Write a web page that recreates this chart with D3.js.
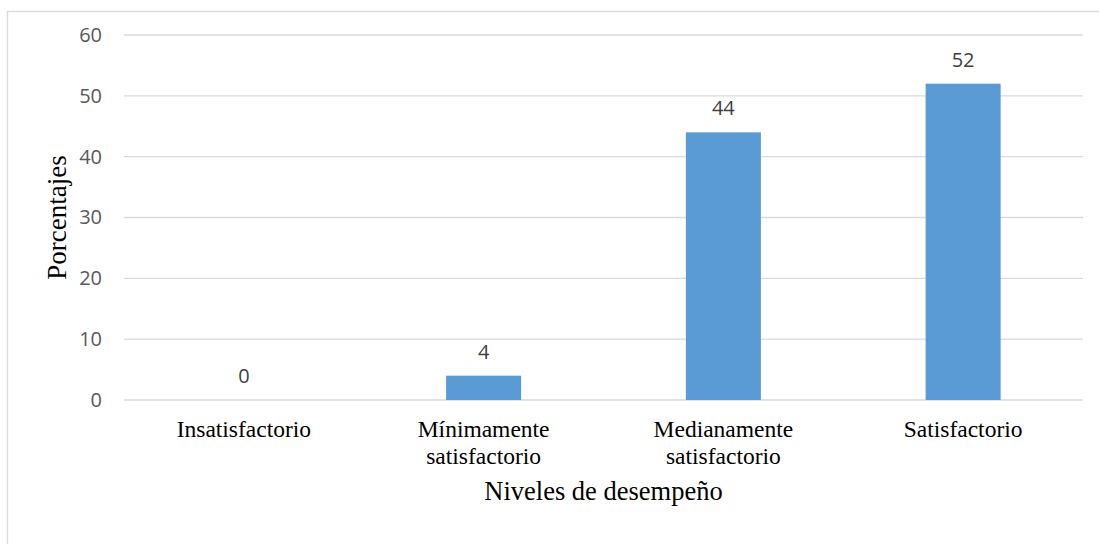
<!DOCTYPE html>
<html>
<head>
<meta charset="utf-8">
<script src="https://cdn.jsdelivr.net/npm/d3@7"></script>
<style>
  body { margin: 0; background: #fff; }
  .tick text { font-family: "Open Sans", sans-serif; }
</style>
</head>
<body>
<div id="chart"></div>
<script>
// data
const categories = ["Insatisfactorio", "Mínimamente satisfactorio", "Medianamente satisfactorio", "Satisfactorio"];
const categoryLines = [["Insatisfactorio"], ["Mínimamente", "satisfactorio"], ["Medianamente", "satisfactorio"], ["Satisfactorio"]];
const values = [0, 4, 44, 52];
const yTicks = [0, 10, 20, 30, 40, 50, 60];

// dimensions and margins
const W = 1099, H = 544;
const margin = { top: 35, right: 16, bottom: 144, left: 124 },
      width = W - margin.left - margin.right,
      height = H - margin.top - margin.bottom;

const svg = d3.select("#chart")
  .append("svg")
  .attr("width", W)
  .attr("height", H);

// outer chart border
svg.append("rect")
  .attr("x", 7.5).attr("y", 11.5)
  .attr("width", W).attr("height", H)
  .attr("fill", "none")
  .attr("stroke", "#d9d9d9")
  .attr("stroke-width", 1.3);

const g = svg.append("g")
  .attr("transform", `translate(${margin.left},${margin.top})`);

// scales
const x = d3.scaleBand()
  .domain(categories)
  .range([0, width])
  .padding(0);

const y = d3.scaleLinear()
  .domain([0, 60])
  .range([height, 0]);

const barW = x.bandwidth() * 0.313;

// grid lines
g.append("g")
  .selectAll("line")
  .data(yTicks)
  .join("line")
  .attr("x1", 0).attr("x2", width)
  .attr("y1", d => y(d)).attr("y2", d => y(d))
  .attr("stroke", "#d9d9d9")
  .attr("stroke-width", 1.3);

// y axis labels
const yAxis = g.append("g")
  .call(d3.axisLeft(y).tickValues(yTicks).tickSize(0).tickPadding(22));
yAxis.select(".domain").remove();
yAxis.selectAll("text")
  .attr("fill", "#595959")
  .style("font-size", "20px");

// bars
g.selectAll(".bar")
  .data(values)
  .join("rect")
  .attr("class", "bar")
  .attr("x", (d, i) => x(categories[i]) + (x.bandwidth() - barW) / 2)
  .attr("y", d => y(d))
  .attr("width", barW)
  .attr("height", d => height - y(d))
  .attr("fill", "#5b9bd5");

// data labels
g.selectAll(".value-label")
  .data(values)
  .join("text")
  .attr("class", "value-label")
  .attr("x", (d, i) => x(categories[i]) + x.bandwidth() / 2)
  .attr("y", d => y(d) - 17)
  .attr("text-anchor", "middle")
  .attr("fill", "#404040")
  .style("font-family", "'Open Sans', sans-serif")
  .style("font-size", "20px")
  .text(d => d);

// category labels
const catText = g.selectAll(".cat-label")
  .data(categoryLines)
  .join("text")
  .attr("class", "cat-label")
  .attr("text-anchor", "middle")
  .attr("fill", "#000")
  .style("font-family", "'Liberation Serif', 'Times New Roman', serif")
  .style("font-size", "23.5px")
  .attr("transform", (d, i) => `translate(${x(categories[i]) + x.bandwidth() / 2},${height + 37})`);

catText.selectAll("tspan")
  .data(d => d)
  .join("tspan")
  .attr("x", 0)
  .attr("y", (d, i) => i * 27)
  .text(d => d);

// axis titles
g.append("text")
  .attr("x", x(categories[1]) + x.bandwidth())
  .attr("y", height + 100)
  .attr("text-anchor", "middle")
  .style("font-family", "'Liberation Serif', 'Times New Roman', serif")
  .style("font-size", "26.5px")
  .attr("fill", "#000")
  .text("Niveles de desempeño");

g.append("text")
  .attr("transform", `translate(${-margin.left + 66},${y(30)}) rotate(-90)`)
  .attr("text-anchor", "middle")
  .style("font-family", "'Liberation Serif', 'Times New Roman', serif")
  .style("font-size", "27px")
  .attr("fill", "#000")
  .text("Porcentajes");
</script>
</body>
</html>
